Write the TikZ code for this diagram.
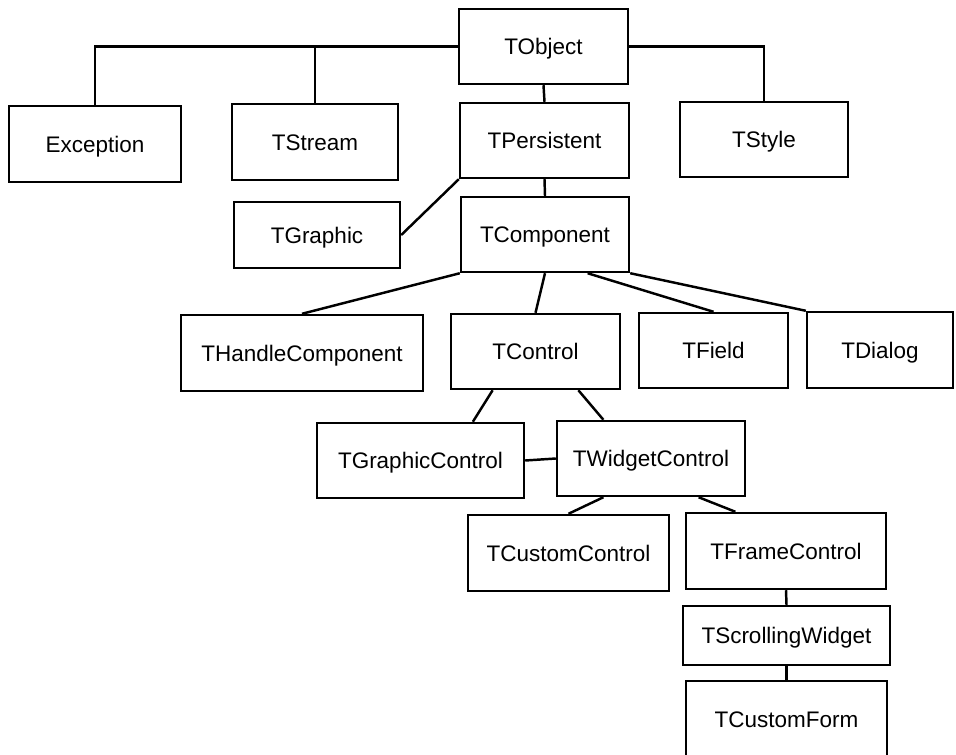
\documentclass[tikz,border=0pt]{standalone}
\usepackage{fontspec}
\setmainfont{Liberation Sans}
\usetikzlibrary{calc}

\begin{document}
\begin{tikzpicture}[x=0.02cm,y=-0.02cm,line width=1.4pt,
	class_node/.style={rectangle,draw,line width=1.4pt,inner sep=2pt,minimum width=3.38cm,minimum height=1.5cm,text height=9.2pt,text depth=0pt,font=\fontsize{12.8}{15}\selectfont}]
		
		\useasboundingbox (0,0) rectangle (956,754);
		
		\node[class_node] (tobject) at (543.5,46.5) {TObject};
		\node[class_node,minimum width=3.44cm,minimum height=1.52cm] (exception) at (95,144) {Exception};
		\node[class_node,minimum width=3.32cm,minimum height=1.52cm] (tstream) at (315,142) {TStream};
		\node[class_node] (tpersistent) at (544.5,140.5) {TPersistent};
		\node[class_node,minimum width=3.36cm] (tstyle) at (764,139.5) {TStyle};
		\node[class_node,minimum width=3.32cm,minimum height=1.32cm] (tgraphic) at (317,235) {TGraphic};
		\node[class_node,minimum width=3.36cm] (tcomponent) at (545,234.5) {TComponent};
		\node[class_node,minimum width=4.84cm,minimum height=1.52cm] (thandlecomponent) at (302,353) {THandleComponent};
		\node[class_node] (tcontrol) at (535.5,351.5) {TControl};
		\node[class_node,minimum width=2.98cm] (tfield) at (713.5,350.5) {TField};
		\node[class_node,minimum width=2.92cm,minimum height=1.52cm] (tdialog) at (880,350) {TDialog};
		\node[class_node,minimum width=4.14cm] (tgraphiccontrol) at (420.5,460.5) {TGraphicControl};
		\node[class_node,minimum width=3.76cm] (twidgetcontrol) at (651,458.5) {TWidgetControl};
		\node[class_node,minimum width=4.02cm,minimum height=1.52cm] (tcustomcontrol) at (568.5,553) {TCustomControl};
		\node[class_node,minimum width=4.0cm,minimum height=1.52cm] (tframecontrol) at (786,551) {TFrameControl};
		\node[class_node,minimum width=4.14cm,minimum height=1.18cm] (tscrollingwidget) at (786.5,635.5) {TScrollingWidget};
		\node[class_node,minimum width=4.02cm,minimum height=1.52cm] (tcustomform) at (786.5,719) {TCustomForm};
		
		\draw (tobject.west) -| (exception.north);
		\draw (tobject.west) -| (tstream.north);
		\draw (tobject.east) -| (tstyle.north);
		\draw (tobject.south) -- (tpersistent.north);
		\draw (tpersistent.south west) -- (tgraphic.east);
		\draw (tpersistent.south) -- (tcomponent.north);
		\draw (tcomponent.south west) -- (thandlecomponent.north);
		\draw (tcomponent.south) -- (tcontrol.north);
		\draw ($(tcomponent.south)!.5!(tcomponent.south east)$) -- (tfield.north);
		\draw (tcomponent.south east) -- (tdialog.north west);
		\draw ($(tcontrol.south west)!.5!(tcontrol.south)$) -- ($(tgraphiccontrol.north)!.5!(tgraphiccontrol.north east)$);
		\draw ($(tcontrol.south)!.5!(tcontrol.south east)$) -- ($(twidgetcontrol.north west)!.5!(twidgetcontrol.north)$);
		\draw (tgraphiccontrol.east) -- (twidgetcontrol.west);
		\draw ($(twidgetcontrol.south west)!.5!(twidgetcontrol.south)$) -- (tcustomcontrol.north);
		\draw ($(twidgetcontrol.south)!.5!(twidgetcontrol.south east)$) -- ($(tframecontrol.north west)!.5!(tframecontrol.north)$);
		\draw (tframecontrol.south) -- (tscrollingwidget.north);
		\draw (tscrollingwidget.south) -- (tcustomform.north);
		\end{tikzpicture}
\end{document}
